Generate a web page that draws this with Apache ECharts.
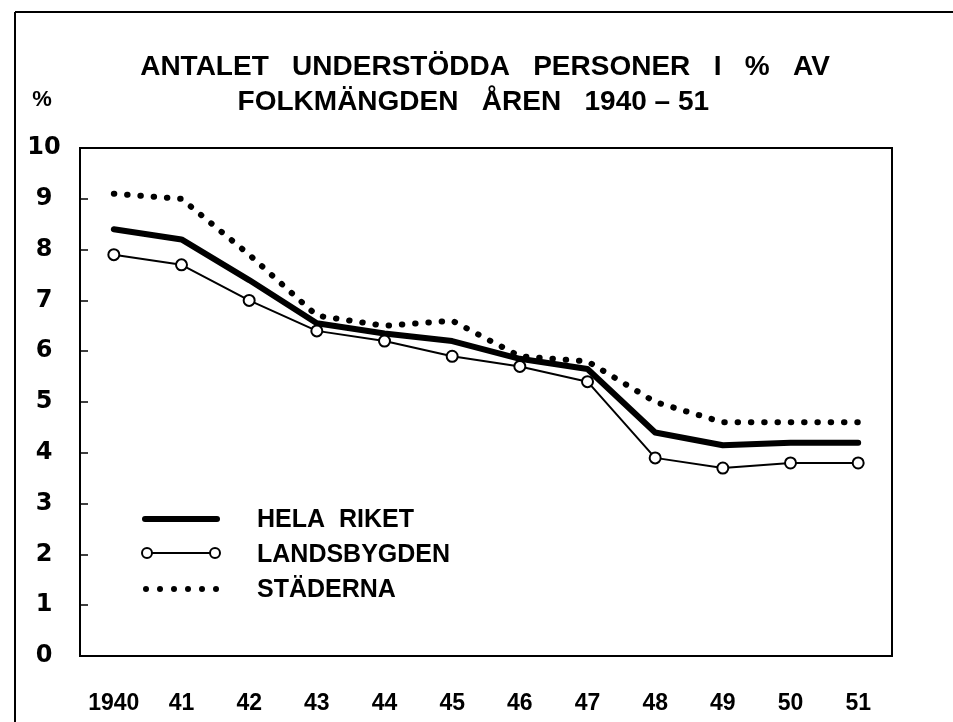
<!DOCTYPE html>
<html>
<head>
<meta charset="utf-8">
<script src="https://cdn.jsdelivr.net/npm/echarts@6/dist/echarts.min.js"></script>
<style>
html, body { margin: 0; padding: 0; background: #fff; }
#main { width: 953px; height: 722px; }
</style>
</head>
<body>
<div id="main"></div>
<script>
var years = ['1940', '41', '42', '43', '44', '45', '46', '47', '48', '49', '50', '51'];
var helaRiket = [8.4, 8.2, 7.4, 6.55, 6.35, 6.2, 5.85, 5.65, 4.4, 4.15, 4.2, 4.2];
var landsbygden = [7.9, 7.7, 7.0, 6.4, 6.2, 5.9, 5.7, 5.4, 3.9, 3.7, 3.8, 3.8];
var staderna = [9.1, 9.0, 7.9, 6.7, 6.5, 6.6, 5.9, 5.8, 5.0, 4.6, 4.6, 4.6];
var seriesNames = ['HELA  RIKET', 'LANDSBYGDEN', 'STÄDERNA'];

var chartDom = document.getElementById('main');
var myChart = echarts.init(chartDom);

var labelFont = "'Liberation Sans', Arial, sans-serif";

// hand drawn legend like the original
var legendItems = [
    { type: 'line', shape: { x1: 145, y1: 519, x2: 217, y2: 519 }, style: { stroke: '#000', lineWidth: 6, lineCap: 'round' } },
    { type: 'line', shape: { x1: 145, y1: 553, x2: 217, y2: 553 }, style: { stroke: '#000', lineWidth: 2 } },
    { type: 'circle', shape: { cx: 147, cy: 553, r: 5 }, style: { fill: '#fff', stroke: '#000', lineWidth: 2 } },
    { type: 'circle', shape: { cx: 215, cy: 553, r: 5 }, style: { fill: '#fff', stroke: '#000', lineWidth: 2 } }
];
for (var i = 0; i < 6; i++) {
    legendItems.push({ type: 'circle', shape: { cx: 146 + i * 14, cy: 589, r: 3 }, style: { fill: '#000' } });
}
seriesNames.forEach(function (name, k) {
    legendItems.push({
        type: 'text', x: 257, y: 520 + k * 35,
        style: { text: name, fill: '#000', font: 'bold 25px ' + labelFont, textVerticalAlign: 'middle' }
    });
});

var option = {
    animation: false,
    backgroundColor: '#fff',
    title: {
        text: 'ANTALET   UNDERSTÖDDA   PERSONER   I   %   AV\nFOLKMÄNGDEN   ÅREN   1940 – 51   ',
        left: 480,
        textAlign: 'center',
        top: 45,
        textStyle: {
            fontFamily: labelFont,
            fontWeight: 'bold',
            fontSize: 28,
            lineHeight: 35,
            color: '#000'
        }
    },
    graphic: [
        { type: 'line', shape: { x1: 15, y1: 12, x2: 15, y2: 722 }, style: { stroke: '#000', lineWidth: 2 } },
        { type: 'line', shape: { x1: 15, y1: 12, x2: 953, y2: 12 }, style: { stroke: '#000', lineWidth: 2 } },
        {
            type: 'text', x: 42, y: 100,
            style: { text: '%', fill: '#000', font: 'bold 22px ' + labelFont, textAlign: 'center', textVerticalAlign: 'middle' }
        }
    ].concat(legendItems),
    grid: {
        left: 80,
        top: 148,
        right: 61,
        bottom: 66,
        show: true,
        borderColor: '#000',
        borderWidth: 2
    },
    xAxis: {
        type: 'category',
        data: years,
        boundaryGap: true,
        axisLine: { lineStyle: { color: '#000', width: 2 } },
        axisTick: { inside: true, alignWithLabel: true, length: 9, lineStyle: { color: '#000', width: 1.5 } },
        axisLabel: {
            margin: 36,
            color: '#000',
            fontFamily: labelFont,
            fontWeight: 'bold',
            fontSize: 23
        },
        splitLine: { show: false }
    },
    yAxis: {
        type: 'value',
        min: 0,
        max: 10,
        interval: 1,
        axisLine: { show: true, lineStyle: { color: '#000', width: 2 } },
        axisTick: { show: true, inside: true, length: 8, lineStyle: { color: '#000', width: 1.5 } },
        axisLabel: {
            margin: 36,
            align: 'center',
            color: '#000',
            fontFamily: "'DejaVu Sans', sans-serif",
            fontWeight: 'bold',
            fontSize: 24
        },
        splitLine: { show: false }
    },
    series: [
        {
            name: seriesNames[2],
            type: 'line',
            data: staderna,
            showSymbol: false,
            lineStyle: { color: '#000', width: 6, type: [0.5, 12.8], cap: 'round' },
            z: 1
        },
        {
            name: seriesNames[0],
            type: 'line',
            data: helaRiket,
            showSymbol: false,
            lineStyle: { color: '#000', width: 6, cap: 'round', join: 'round' },
            z: 2
        },
        {
            name: seriesNames[1],
            type: 'line',
            data: landsbygden,
            symbol: 'circle',
            symbolSize: 11,
            itemStyle: { color: '#fff', borderColor: '#000', borderWidth: 2 },
            lineStyle: { color: '#000', width: 2 },
            z: 3
        }
    ]
};

option && myChart.setOption(option);
</script>
</body>
</html>
